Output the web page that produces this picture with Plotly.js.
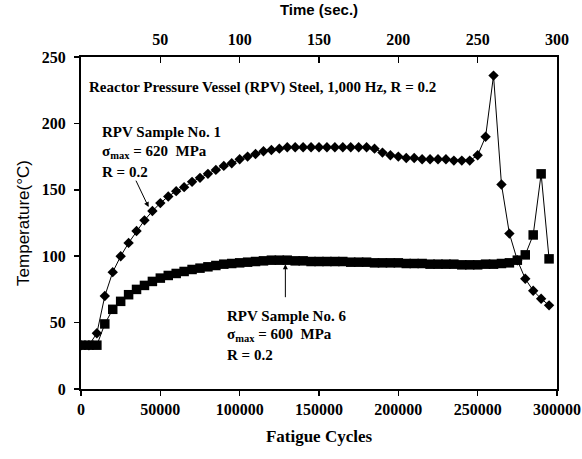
<!DOCTYPE html>
<html>
<head>
<meta charset="utf-8">
<script src="https://cdn.plot.ly/plotly-3.0.1.min.js"></script>
<style>html,body{margin:0;padding:0;background:#fff;}#chart{width:582px;height:459px;}</style>
</head>
<body>
<div id="chart"></div>
<script>
// Sample No. 1 (diamonds): fatigue cycles and temperature (°C)
var cyclesNo1 = [0,5000,10000,15000,20000,25000,30000,35000,40000,45000,50000,55000,60000,65000,70000,75000,80000,85000,90000,95000,100000,105000,110000,115000,120000,125000,130000,135000,140000,145000,150000,155000,160000,165000,170000,175000,180000,185000,190000,195000,200000,205000,210000,215000,220000,225000,230000,235000,240000,245000,250000,255000,260000,265000,270000,275000,280000,285000,290000,295000];
var tempNo1 = [33,33,42,70,88,100,110,119,127,134,140,145,149,152,156,159,162,165,168,170,173,175,177,179,180,181,182,182,182,182,182,182,182,182,182,182,182,181,178,176,175,174,174,173,173,173,173,172,172,172,176,190,236,154,117,97,83,74,68,63];

// Sample No. 6 (squares): fatigue cycles and temperature (°C)
var cyclesNo6 = [0,5000,10000,15000,20000,25000,30000,35000,40000,45000,50000,55000,60000,65000,70000,75000,80000,85000,90000,95000,100000,105000,110000,115000,120000,125000,130000,135000,140000,145000,150000,155000,160000,165000,170000,175000,180000,185000,190000,195000,200000,205000,210000,215000,220000,225000,230000,235000,240000,245000,250000,255000,260000,265000,270000,275000,280000,285000,290000,295000];
var tempNo6 = [33,33,33,49,60,66,71,75,78,81,83.5,85.5,87,88.5,90,91,92,93,94,94.5,95,95.5,96,96.5,97,97,97,96.5,96.5,96,96,96,96,96,95.5,95.5,95.5,95,95,95,95,94.5,94.5,94.5,94,94,94,94,93.5,93.5,93.5,94,94,94.5,95,97,101,116,162,98];

// Tick labels
var cycleTicks = [0,50000,100000,150000,200000,250000,300000];
var timeTicks = [50,100,150,200,250,300];
var tempTicks = [0,50,100,150,200,250];

var serif = 'Liberation Serif, Times New Roman, serif';
var sans = 'Liberation Sans, Arial, sans-serif';

var traces = [
  {x: cyclesNo1, y: tempNo1, type: 'scatter', mode: 'lines+markers',
   line: {color: '#000', width: 1}, marker: {symbol: 'diamond', size: 8, color: '#000'}, showlegend: false},
  {x: cyclesNo6, y: tempNo6, type: 'scatter', mode: 'lines+markers',
   line: {color: '#000', width: 1}, marker: {symbol: 'square', size: 9.5, color: '#000'}, showlegend: false},
  {x: [0], y: [0], xaxis: 'x2', yaxis: 'y', mode: 'markers', marker: {opacity: 0}, showlegend: false, hoverinfo: 'skip'}
];

var tickFont = {family: serif, size: 16, color: '#000', weight: 'bold'};
var annFont = {family: serif, size: 15, color: '#000', weight: 'bold'};

var layout = {
  width: 582, height: 459,
  margin: {l: 81, r: 25, t: 57, b: 70},
  paper_bgcolor: '#fff', plot_bgcolor: '#fff',
  showlegend: false,
  xaxis: {
    range: [0, 300000], tickvals: cycleTicks, ticktext: cycleTicks.map(String),
    showgrid: false, zeroline: false, showline: true, linecolor: '#000', linewidth: 2, mirror: true,
    ticks: 'outside', ticklen: 5, tickcolor: '#000', tickwidth: 1.5,
    tickfont: tickFont,
    title: {text: 'Fatigue Cycles', font: {family: serif, size: 17, color: '#000', weight: 'bold'}, standoff: 13}
  },
  xaxis2: {
    overlaying: 'x', side: 'top', range: [0, 300], tickvals: timeTicks, ticktext: timeTicks.map(String),
    showgrid: false, zeroline: false, showline: false,
    ticks: 'inside', ticklen: 6, tickcolor: '#000', tickwidth: 1.5, ticklabelstandoff: 8,
    tickfont: tickFont,
    title: {text: 'Time (sec.)', font: {family: sans, size: 15, color: '#000', weight: 'bold'}, standoff: 11}
  },
  yaxis: {
    range: [0, 250], tickvals: tempTicks, ticktext: tempTicks.map(String),
    showgrid: false, zeroline: false, showline: true, linecolor: '#000', linewidth: 2, mirror: true,
    ticks: 'outside', ticklen: 5, tickcolor: '#000', tickwidth: 1.5, ticklabelstandoff: 5,
    tickfont: tickFont,
    title: {text: 'Temperature(°C)', font: {family: sans, size: 17, color: '#000'}, standoff: 8}
  },
  annotations: [
    {xref: 'x', yref: 'y', x: 4000, y: 227, xanchor: 'left', yanchor: 'middle', showarrow: false,
     text: 'Reactor Pressure Vessel (RPV) Steel, 1,000 Hz, R = 0.2', font: annFont},
    {xref: 'x', yref: 'y', x: 12000, y: 193.5, xanchor: 'left', yanchor: 'middle', showarrow: false,
     text: 'RPV Sample No. 1', font: annFont},
    {xref: 'x', yref: 'y', x: 12000, y: 178.5, xanchor: 'left', yanchor: 'middle', showarrow: false,
     text: 'σ<sub>max</sub> = 620  MPa', font: annFont},
    {xref: 'x', yref: 'y', x: 12000, y: 163.5, xanchor: 'left', yanchor: 'middle', showarrow: false,
     text: 'R = 0.2', font: annFont},
    {xref: 'x', yref: 'y', x: 42600, y: 137, axref: 'x', ayref: 'y', ax: 34200, ay: 158, text: '',
     showarrow: true, arrowhead: 2, arrowsize: 1, arrowwidth: 1, arrowcolor: '#000'},
    {xref: 'x', yref: 'y', x: 91000, y: 55.3, xanchor: 'left', yanchor: 'middle', showarrow: false,
     text: 'RPV Sample No. 6', font: annFont},
    {xref: 'x', yref: 'y', x: 91000, y: 40.3, xanchor: 'left', yanchor: 'middle', showarrow: false,
     text: 'σ<sub>max</sub> = 600  MPa', font: annFont},
    {xref: 'x', yref: 'y', x: 91000, y: 25.3, xanchor: 'left', yanchor: 'middle', showarrow: false,
     text: 'R = 0.2', font: annFont},
    {xref: 'x', yref: 'y', x: 128800, y: 94, axref: 'x', ayref: 'y', ax: 128800, ay: 68, text: '',
     showarrow: true, arrowhead: 2, arrowsize: 1, arrowwidth: 1, arrowcolor: '#000'}
  ]
};

Plotly.newPlot('chart', traces, layout, {staticPlot: true, displayModeBar: false});
</script>
</body>
</html>
